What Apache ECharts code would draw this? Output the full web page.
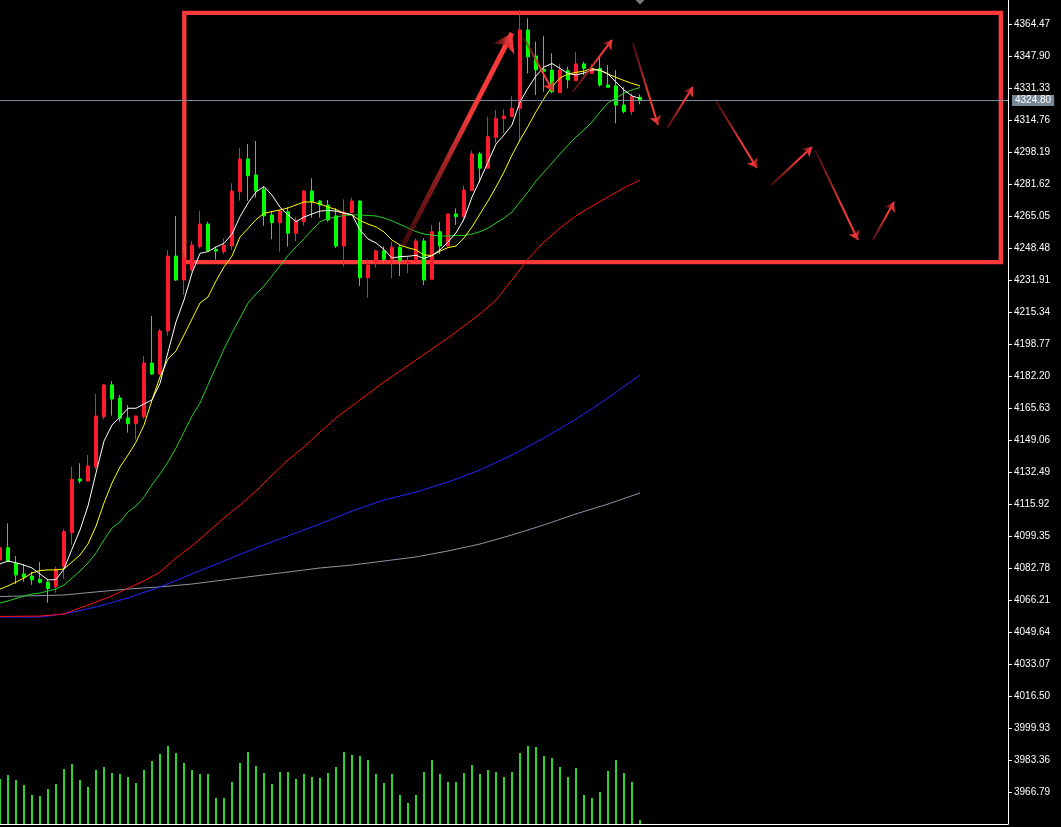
<!DOCTYPE html>
<html><head><meta charset="utf-8">
<script src="https://cdn.jsdelivr.net/npm/echarts@6/dist/echarts.min.js"></script>
<style>html,body{margin:0;padding:0;background:#000;}#c{width:1061px;height:827px;}</style>
</head><body><div id="c"></div>
<script>
const yTickLabels = ['4364.47','4347.90','4331.33','4314.76','4298.19','4281.62','4265.05','4248.48','4231.91','4215.34','4198.77','4182.20','4165.63','4149.06','4132.49','4115.92','4099.35','4082.78','4066.21','4049.64','4033.07','4016.50','3999.93','3983.36','3966.79'];

// [open, close, low, high] per bar
const candles = [
[4086.9,4093.3,4085.4,4094.7],[4093.3,4086.1,4085.9,4105.9],[4085.2,4079.2,4074.5,4089.0],[4079.7,4078.0,4075.7,4084.6],
[4078.6,4076.7,4074.1,4080.9],[4076.9,4075.3,4074.8,4085.9],[4075.5,4072.2,4064.8,4077.2],[4073.1,4082.1,4070.0,4083.5],
[4083.5,4101.6,4077.2,4102.8],[4101.1,4128.7,4094.9,4135.2],[4128.9,4127.8,4126.6,4137.0],[4127.8,4135.6,4127.6,4141.3],
[4135.2,4161.5,4133.9,4172.9],[4161.1,4177.6,4159.8,4178.1],[4177.6,4170.3,4161.7,4179.6],[4170.8,4160.3,4158.5,4172.4],
[4160.5,4157.5,4152.9,4167.2],[4157.5,4161.5,4149.4,4161.7],[4161.1,4188.9,4159.9,4192.6],[4188.9,4183.2,4182.7,4213.3],
[4183.2,4205.5,4182.7,4206.5],[4205.5,4244.3,4203.1,4247.4],[4244.3,4231.9,4231.4,4265.1],[4231.9,4243.3,4224.2,4246.4],
[4237.1,4250.0,4236.2,4252.1],[4249.2,4260.9,4248.3,4267.6],[4260.9,4247.1,4246.9,4262.1],[4247.7,4246.9,4242.5,4249.3],
[4246.6,4250.0,4245.4,4253.5],[4249.5,4278.0,4247.5,4282.0],[4277.6,4294.6,4273.0,4300.4],[4294.6,4285.9,4273.0,4302.3],
[4286.3,4278.0,4274.5,4303.9],[4278.9,4265.1,4260.0,4280.2],[4265.6,4261.6,4253.0,4267.3],[4261.6,4267.6,4246.6,4268.2],
[4267.3,4256.1,4249.2,4269.6],[4256.1,4262.6,4252.1,4264.4],[4262.1,4278.0,4260.0,4278.5],[4278.0,4272.5,4264.2,4284.6],
[4272.8,4270.7,4264.2,4273.3],[4270.7,4263.0,4262.1,4273.3],[4265.1,4249.5,4248.5,4269.2],[4249.5,4267.0,4238.8,4273.7],
[4266.8,4272.8,4266.6,4274.5],[4272.8,4233.1,4228.8,4273.3],[4233.1,4239.7,4222.7,4242.6],[4241.4,4247.0,4238.3,4247.8],
[4247.0,4242.6,4240.6,4249.2],[4242.6,4248.9,4232.8,4251.7],[4248.9,4241.9,4234.0,4250.0],[4240.5,4241.2,4235.5,4243.8],
[4242.3,4252.1,4241.2,4253.5],[4252.1,4231.9,4229.3,4253.5],[4232.3,4256.9,4232.2,4260.4],[4256.9,4249.5,4245.4,4262.0],
[4249.5,4266.1,4249.3,4266.3],[4266.1,4264.7,4260.4,4269.0],[4264.7,4278.5,4262.1,4280.8],[4278.2,4297.2,4278.2,4298.9],
[4297.2,4289.8,4282.3,4298.3],[4289.8,4306.1,4289.8,4316.5],[4305.8,4315.6,4302.7,4319.9],[4315.4,4316.8,4307.9,4320.3],
[4316.5,4320.8,4316.5,4327.2],[4320.8,4361.4,4303.5,4371.7],[4361.4,4347.5,4338.9,4367.4],[4347.9,4340.7,4327.7,4355.3],
[4341.0,4340.0,4329.4,4358.3],[4340.6,4329.4,4328.6,4349.3],[4328.9,4340.6,4328.7,4343.8],[4340.3,4335.5,4331.2,4342.4],
[4335.1,4343.8,4335.0,4350.1],[4343.8,4341.5,4338.1,4345.0],[4338.9,4341.5,4338.6,4343.6],[4341.5,4332.9,4332.0,4347.5],
[4332.9,4331.7,4331.6,4343.2],[4332.4,4322.5,4313.1,4340.6],[4322.5,4319.1,4318.2,4332.0],[4319.1,4326.8,4317.4,4328.6],
[4326.5,4324.8,4322.9,4328.1]
];

const volumes = [45,49,44,39,29,28,35,40,55,60,44,37,54,57,51,50,47,41,54,63,70,78,71,61,54,50,50,26,26,42,
61,72,58,51,40,52,52,45,50,47,46,51,57,72,69,68,64,50,41,50,29,21,29,52,64,50,42,42,51,59,
50,54,52,47,52,71,78,77,68,66,57,47,56,29,26,32,53,64,51,42,4];

const maWhite = [4084.9,4086.4,4085.5,4084.3,4082.8,4079.7,4076.6,4076.8,4082.3,4092.6,4102.5,4114.9,4132.0,4148.5,4156.8,4161.0,
4165.5,4165.5,4167.7,4169.8,4178.4,4194.6,4210.2,4221.6,4235.5,4245.7,4246.6,4249.0,4250.9,4255.7,4264.7,4271.8,4277.5,4280.3,
4275.9,4269.6,4265.6,4262.1,4264.5,4266.1,4267.6,4267.9,4267.6,4266.5,4265.8,4257.8,4253.2,4251.1,4247.7,4243.3,4244.0,4244.2,
4244.7,4243.0,4244.6,4247.5,4251.6,4256.3,4263.5,4274.9,4283.7,4293.0,4302.3,4307.0,4312.2,4324.1,4331.3,4337.6,4342.2,4344.0,
4341.5,4338.8,4338.1,4339.1,4340.7,4340.7,4338.6,4334.4,4330.3,4327.2,4325.9];

const maYellow = [4071.9,4073.5,4075.5,4077.6,4080.2,4081.5,4081.8,4081.8,4082.3,4085.9,4089.5,4095.2,4104.5,4116.5,4126.8,4135.1,
4141.3,4148.0,4156.8,4169.8,4181.7,4191.0,4195.2,4203.4,4211.7,4220.0,4223.1,4231.4,4238.7,4244.3,4254.2,4258.6,4263.2,4266.4,
4267.4,4268.2,4269.2,4270.8,4272.3,4272.3,4271.3,4269.7,4268.4,4266.5,4265.6,4262.7,4260.9,4259.4,4256.8,4252.6,4250.0,4248.6,
4247.5,4244.9,4244.6,4246.9,4248.7,4249.5,4253.7,4259.4,4266.1,4272.8,4280.1,4287.8,4296.6,4304.4,4311.5,4319.0,4326.0,4332.0,
4336.5,4338.6,4339.4,4340.1,4341.4,4340.4,4338.6,4336.8,4335.2,4333.7,4332.4];

const maGreen = [4064.7,4065.7,4067.0,4068.3,4069.3,4069.8,4070.9,4071.9,4074.0,4077.6,4081.2,4085.4,4090.6,4097.3,4103.5,4106.6,
4111.8,4114.9,4119.6,4125.8,4131.5,4137.7,4144.9,4153.2,4161.5,4168.2,4177.6,4186.9,4196.2,4204.5,4212.2,4220.0,4224.7,4228.8,
4234.0,4239.2,4244.6,4249.0,4253.2,4257.8,4262.0,4263.8,4264.5,4265.3,4265.6,4265.6,4265.3,4265.1,4264.0,4262.5,4260.7,4258.8,
4257.0,4255.7,4255.1,4254.7,4254.7,4255.0,4255.0,4255.7,4256.9,4258.8,4261.4,4264.0,4267.1,4272.3,4277.5,4283.2,4287.8,4292.5,
4297.2,4301.8,4306.0,4309.6,4313.7,4318.9,4323.6,4326.2,4328.7,4330.3,4331.6];

// [bar, value] points
const maRed = [[0,4057.7],[5,4057.9],[8,4059.0],[10,4062.1],[12,4065.2],[14,4068.3],[16,4072.4],[18,4076.1],[20,4080.7],[22,4088.0],
[24,4094.2],[26,4101.4],[28,4108.7],[30,4115.4],[32,4122.7],[34,4130.9],[36,4138.7],[38,4145.4],[40,4153.2],[42,4160.5],[44,4166.7],
[46,4172.9],[48,4179.1],[50,4184.8],[52,4190.5],[54,4196.2],[56,4201.9],[58,4208.1],[60,4214.3],[62,4221.6],[64,4231.9],[66,4242.8],
[68,4251.6],[70,4258.8],[72,4265.1],[74,4270.2],[76,4274.9],[78,4279.6],[80,4283.7]];
const maBlue = [[0,4057.4],[5,4057.4],[8,4059.0],[12,4062.6],[16,4067.3],[20,4073.0],[24,4079.7],[28,4086.4],[32,4093.2],[36,4099.4],
[40,4105.6],[44,4112.3],[48,4118.0],[52,4122.1],[56,4127.3],[60,4133.5],[64,4141.3],[68,4150.1],[72,4159.9],[76,4170.8],[80,4182.7]];
const maGray = [[0,4068.0],[8,4068.8],[12,4070.4],[16,4071.9],[20,4073.0],[24,4074.5],[28,4076.6],[32,4078.7],[36,4080.7],[40,4082.8],
[44,4084.3],[48,4086.4],[52,4088.5],[56,4091.6],[60,4095.2],[64,4099.9],[68,4105.1],[72,4110.8],[76,4115.9],[80,4121.6]];

const currentPrice = 4324.80;
const currentBar = 80;

// hand-drawn annotations: [fromBar, fromPrice, toBar, toPrice, width]
const arrows = [
[50.4,4250.0,64.0,4359.8,5],
[65.5,4357.2,69.1,4329.8,2],
[71.6,4329.3,76.5,4356.2,2],
[79.1,4354.6,82.25,4312.2,2],
[83.4,4310.6,86.6,4331.9,2],
[89.5,4324.6,94.6,4289.9,2],
[96.4,4281.1,101.5,4300.8,2],
[101.9,4299.2,107.25,4252.6,2],
[109.1,4252.6,111.75,4272.3,2]
];
const boxCorners = [[23.04,4370.2],[125.1,4241.2]];

const yMin = 3950.23, yMax = 4376.9;
const tickVals = yTickLabels.map(parseFloat);

const RED = '#ff1a2e', GREEN = '#00ff00';

function maSeries(name, pts, color) {
  return {type:'line', name, xAxisIndex:0, yAxisIndex:0, data: pts, symbol:'none', silent:true,
    lineStyle:{color, width:1}, z:3};
}
const idx = a => a.map((v,i)=>[i,v]);

const chart = echarts.init(document.getElementById('c'), null, {renderer:'canvas'});
chart.setOption({
  backgroundColor:'#000',
  animation:false,
  grid:[{left:0,right:53,top:0,bottom:3},{left:0,right:53,bottom:3,height:100}],
  xAxis:[
    {type:'value',gridIndex:0,min:0,max:126,axisLine:{show:true,onZero:false,lineStyle:{color:'#fff',width:1}},
     axisTick:{show:false},axisLabel:{show:false},splitLine:{show:false}},
    {type:'value',gridIndex:1,min:0,max:126,show:false,splitLine:{show:false}}
  ],
  yAxis:[
    {type:'value',gridIndex:0,position:'right',min:yMin,max:yMax,
     axisLine:{show:true,onZero:false,lineStyle:{color:'#fff',width:1}},
     axisTick:{show:true,length:4,lineStyle:{color:'#fff'},customValues:tickVals},
     axisLabel:{color:'#fff',fontFamily:'Liberation Sans',fontSize:10,margin:6,customValues:tickVals,
       formatter:v=>Number(v).toFixed(2)},
     splitLine:{show:false}},
    {type:'value',gridIndex:1,min:0,max:100,show:false,splitLine:{show:false}}
  ],
  series:[
    {type:'bar',xAxisIndex:1,yAxisIndex:1,data:idx(volumes),barWidth:2,itemStyle:{color:'#2fd12f'},silent:true,z:1},
    {type:'candlestick',xAxisIndex:0,yAxisIndex:0,data:candles.map((c,i)=>[i,c[0],c[1],c[2],c[3]]),
     barWidth:4,silent:true,z:2,
     itemStyle:{color:RED,color0:GREEN,borderColor:RED,borderColor0:GREEN,borderWidth:1},
     markLine:{silent:true,symbol:['none','none'],animation:false,
       lineStyle:{color:'#7a8b9c',width:1,type:'solid'},
       label:{show:true,position:'end',distance:4,formatter:currentPrice.toFixed(2),color:'#fff',
         backgroundColor:'#778899',padding:[1,3,0,3],fontFamily:'Liberation Sans',fontSize:10},
       data:[{yAxis:currentPrice}]}},
    maSeries('gray', maGray, '#8c96a3'),
    maSeries('blue', maBlue, '#2424ff'),
    maSeries('red', maRed, '#ff1010'),
    maSeries('green', idx(maGreen), '#22d022'),
    maSeries('yellow', idx(maYellow), '#ffff00'),
    maSeries('white', idx(maWhite), '#ffffff'),
    {type:'scatter',xAxisIndex:0,yAxisIndex:0,data:[[currentBar,yMax]],symbol:'diamond',symbolSize:[9,9],
     itemStyle:{color:'#9a9a9a'},silent:true,z:6,clip:false},
    {type:'lines',coordinateSystem:'cartesian2d',xAxisIndex:0,yAxisIndex:0,silent:true,z:5,
     data: arrows.map(a=>{
       const up = a[3] > a[1];
       return {coords:[[a[0],a[1]],[a[2],a[3]]],
         symbol:['none','arrow'], symbolSize: a[4] > 3 ? 18 : 9,
         lineStyle:{width:a[4], color:{type:'linear',x:0,y:up?1:0,x2:1,y2:up?0:1,
           colorStops:[{offset:0,color:'rgba(120,20,20,0.5)'},{offset:0.6,color:'#f03838'},{offset:1,color:'#ff3a3a'}]}}};
     }),
     lineStyle:{opacity:1,curveness:0},
     markArea:{silent:true,itemStyle:{color:'rgba(0,0,0,0)',borderColor:'#ff3a3a',borderWidth:4.3},
       data:[[{coord:boxCorners[0]},{coord:boxCorners[1]}]]}}
  ]
});
</script></body></html>
